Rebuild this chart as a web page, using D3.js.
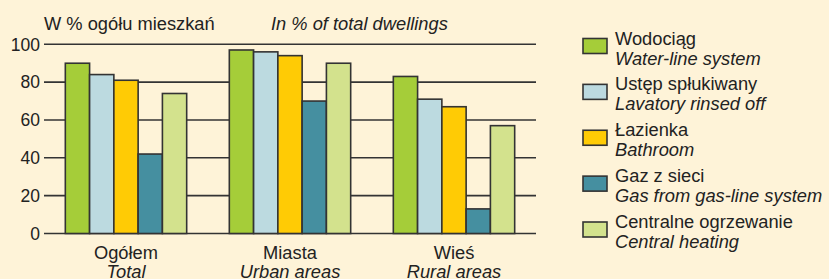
<!DOCTYPE html>
<html><head><meta charset="utf-8">
<script src="https://cdn.jsdelivr.net/npm/d3@7"></script>
<style>
html,body{margin:0;padding:0;background:#fef3d8;}
svg{display:block;font-family:"Liberation Sans",Arial,sans-serif;}
</style></head><body>
<svg id="c" width="829" height="279"></svg>
<script>
const categoriesPL = ["Ogółem", "Miasta", "Wieś"];
const categoriesEN = ["Total", "Urban areas", "Rural areas"];
const seriesPL = ["Wodociąg", "Ustęp spłukiwany", "Łazienka", "Gaz z sieci", "Centralne ogrzewanie"];
const seriesEN = ["Water-line system", "Lavatory rinsed off", "Bathroom", "Gas from gas-line system", "Central heating"];
const colors = ["#a5cd39", "#bcdae0", "#ffcb05", "#458fa0", "#d3e28d"];
const waterLine = [90, 97, 83];
const lavatory = [84, 96, 71];
const bathroom = [81, 94, 67];
const gas = [42, 70, 13];
const heating = [74, 90, 57];
const yTicks = [0, 20, 40, 60, 80, 100];
const series = [waterLine, lavatory, bathroom, gas, heating];

const svg = d3.select("#c");
const fs = 18.3;
const tfs = 17.5;
const x0 = d3.scaleBand().domain(d3.range(categoriesPL.length)).range([44, 536]).paddingInner(0.26).paddingOuter(0.13);
const x1 = d3.scaleBand().domain(d3.range(series.length)).range([0, x0.bandwidth()]);
const y = d3.scaleLinear().domain([0, 100]).range([233.5, 44.3]);

// gridlines
svg.append("g").selectAll("line").data(yTicks).join("line")
  .attr("x1", 44).attr("x2", 536).attr("y1", d => y(d)).attr("y2", d => y(d))
  .attr("stroke", "#333").attr("stroke-width", 1.6);
// tick labels
svg.append("g").selectAll("text").data(yTicks).join("text")
  .attr("x", 40).attr("y", d => y(d)).attr("dy", "0.36em").attr("text-anchor", "end")
  .attr("font-size", tfs).attr("fill", "#222").text(d => d);

// bars
const g = svg.append("g");
categoriesPL.forEach((c, i) => {
  series.forEach((s, j) => {
    g.append("rect")
      .attr("x", x0(i) + x1(j)).attr("width", x1.bandwidth())
      .attr("y", y(s[i])).attr("height", y(0) - y(s[i]))
      .attr("fill", colors[j]).attr("stroke", "#333").attr("stroke-width", 1.6);
  });
});

// category labels
const cl = svg.append("g");
categoriesPL.forEach((c, i) => {
  const cx = x0(i) + x0.bandwidth() / 2;
  cl.append("text").attr("x", cx).attr("y", 258.5).attr("text-anchor", "middle").attr("font-size", fs).attr("fill", "#222").text(c);
  cl.append("text").attr("x", cx).attr("y", 277.5).attr("text-anchor", "middle").attr("font-size", fs).attr("font-style", "italic").attr("fill", "#222").text(categoriesEN[i]);
});

// titles
svg.append("text").attr("x", 44).attr("y", 30).attr("font-size", fs).attr("fill", "#222").text("W % ogółu mieszkań");
svg.append("text").attr("x", 271).attr("y", 30).attr("font-size", fs).attr("font-style", "italic").attr("fill", "#222").text("In % of total dwellings");

// legend
const lg = svg.append("g");
const ly = d3.scalePoint().domain(d3.range(seriesPL.length)).range([46, 229.5]);
seriesPL.forEach((s, j) => {
  const cy = ly(j);
  lg.append("rect").attr("x", 583).attr("y", cy - 7.5).attr("width", 24).attr("height", 15)
    .attr("fill", colors[j]).attr("stroke", "#333").attr("stroke-width", 1.6);
  lg.append("text").attr("x", 615).attr("y", cy - 1.5).attr("font-size", fs).attr("fill", "#222").text(s);
  lg.append("text").attr("x", 615).attr("y", cy + 18.5).attr("font-size", fs).attr("font-style", "italic").attr("fill", "#222").text(seriesEN[j]);
});
</script>
</body></html>
